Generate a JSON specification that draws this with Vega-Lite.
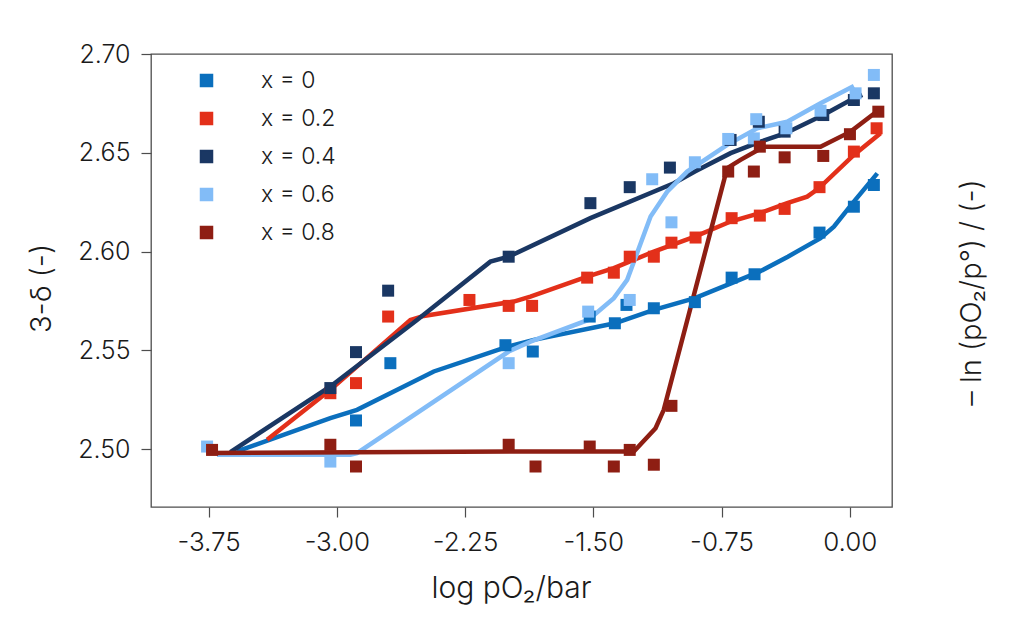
{
  "$schema": "https://vega.github.io/schema/vega-lite/v6.json",
  "width": 741,
  "height": 453,
  "autosize": "none",
  "padding": {"left": 151, "top": 54, "right": 132, "bottom": 135},
  "background": "white",
  "datasets": {
    "pts": [
      {"s": "x = 0", "x": -2.888, "y": 2.5145}, {"s": "x = 0", "x": -2.687, "y": 2.5435},
      {"s": "x = 0", "x": -2.014, "y": 2.5526}, {"s": "x = 0", "x": -1.854, "y": 2.5494},
      {"s": "x = 0", "x": -1.521, "y": 2.5671}, {"s": "x = 0", "x": -1.374, "y": 2.5637},
      {"s": "x = 0", "x": -1.306, "y": 2.573}, {"s": "x = 0", "x": -1.146, "y": 2.5713},
      {"s": "x = 0", "x": -0.906, "y": 2.5744}, {"s": "x = 0", "x": -0.691, "y": 2.5868},
      {"s": "x = 0", "x": -0.557, "y": 2.5885}, {"s": "x = 0", "x": -0.177, "y": 2.6096},
      {"s": "x = 0", "x": 0.024, "y": 2.6227}, {"s": "x = 0", "x": 0.141, "y": 2.6337},

      {"s": "x = 0.2", "x": -3.038, "y": 2.5283}, {"s": "x = 0.2", "x": -2.888, "y": 2.5334},
      {"s": "x = 0.2", "x": -2.7, "y": 2.5671}, {"s": "x = 0.2", "x": -2.2245, "y": 2.5755},
      {"s": "x = 0.2", "x": -1.995, "y": 2.5725}, {"s": "x = 0.2", "x": -1.858, "y": 2.5725},
      {"s": "x = 0.2", "x": -1.536, "y": 2.5868}, {"s": "x = 0.2", "x": -1.38, "y": 2.5893},
      {"s": "x = 0.2", "x": -1.287, "y": 2.5974}, {"s": "x = 0.2", "x": -1.146, "y": 2.5974},
      {"s": "x = 0.2", "x": -1.043, "y": 2.6045}, {"s": "x = 0.2", "x": -0.902, "y": 2.6071},
      {"s": "x = 0.2", "x": -0.691, "y": 2.6169}, {"s": "x = 0.2", "x": -0.526, "y": 2.6182},
      {"s": "x = 0.2", "x": -0.381, "y": 2.6216}, {"s": "x = 0.2", "x": -0.177, "y": 2.6326},
      {"s": "x = 0.2", "x": 0.024, "y": 2.6506}, {"s": "x = 0.2", "x": 0.157, "y": 2.6624},

      {"s": "x = 0.4", "x": -3.038, "y": 2.5309}, {"s": "x = 0.4", "x": -2.888, "y": 2.5491},
      {"s": "x = 0.4", "x": -2.7, "y": 2.5802}, {"s": "x = 0.4", "x": -1.995, "y": 2.5974},
      {"s": "x = 0.4", "x": -1.517, "y": 2.6245}, {"s": "x = 0.4", "x": -1.287, "y": 2.6326},
      {"s": "x = 0.4", "x": -1.052, "y": 2.6425}, {"s": "x = 0.4", "x": -0.697, "y": 2.6565},
      {"s": "x = 0.4", "x": -0.532, "y": 2.6657}, {"s": "x = 0.4", "x": -0.381, "y": 2.6607},
      {"s": "x = 0.4", "x": -0.155, "y": 2.6691}, {"s": "x = 0.4", "x": 0.024, "y": 2.6767},
      {"s": "x = 0.4", "x": 0.141, "y": 2.6801},

      {"s": "x = 0.6", "x": -3.759, "y": 2.5013}, {"s": "x = 0.6", "x": -3.038, "y": 2.4937},
      {"s": "x = 0.6", "x": -1.995, "y": 2.5435}, {"s": "x = 0.6", "x": -1.53, "y": 2.5696},
      {"s": "x = 0.6", "x": -1.287, "y": 2.5755}, {"s": "x = 0.6", "x": -1.1555, "y": 2.6366},
      {"s": "x = 0.6", "x": -1.043, "y": 2.6148}, {"s": "x = 0.6", "x": -0.906, "y": 2.6452},
      {"s": "x = 0.6", "x": -0.711, "y": 2.657}, {"s": "x = 0.6", "x": -0.547, "y": 2.667},
      {"s": "x = 0.6", "x": -0.561, "y": 2.6573}, {"s": "x = 0.6", "x": -0.371, "y": 2.6624},
      {"s": "x = 0.6", "x": -0.171, "y": 2.6713}, {"s": "x = 0.6", "x": 0.034, "y": 2.6801},
      {"s": "x = 0.6", "x": 0.141, "y": 2.6894},

      {"s": "x = 0.8", "x": -3.73, "y": 2.4996}, {"s": "x = 0.8", "x": -3.038, "y": 2.5022},
      {"s": "x = 0.8", "x": -2.888, "y": 2.4912}, {"s": "x = 0.8", "x": -1.995, "y": 2.5022},
      {"s": "x = 0.8", "x": -1.838, "y": 2.4912}, {"s": "x = 0.8", "x": -1.521, "y": 2.5013},
      {"s": "x = 0.8", "x": -1.38, "y": 2.4912}, {"s": "x = 0.8", "x": -1.287, "y": 2.4996},
      {"s": "x = 0.8", "x": -1.146, "y": 2.4921}, {"s": "x = 0.8", "x": -1.043, "y": 2.5219},
      {"s": "x = 0.8", "x": -0.711, "y": 2.6405}, {"s": "x = 0.8", "x": -0.561, "y": 2.6405},
      {"s": "x = 0.8", "x": -0.526, "y": 2.6531}, {"s": "x = 0.8", "x": -0.381, "y": 2.6477},
      {"s": "x = 0.8", "x": -0.155, "y": 2.6484}, {"s": "x = 0.8", "x": 0.001, "y": 2.6594},
      {"s": "x = 0.8", "x": 0.167, "y": 2.6708}
    ],
    "fit": [
      {"s": "x = 0", "x": -3.584, "y": 2.4988}, {"s": "x = 0", "x": -3.038, "y": 2.5157},
      {"s": "x = 0", "x": -2.882, "y": 2.5199}, {"s": "x = 0", "x": -2.433, "y": 2.5393},
      {"s": "x = 0", "x": -2.014, "y": 2.5515}, {"s": "x = 0", "x": -1.848, "y": 2.5553},
      {"s": "x = 0", "x": -1.374, "y": 2.5637}, {"s": "x = 0", "x": -1.146, "y": 2.5705},
      {"s": "x = 0", "x": -0.906, "y": 2.5764}, {"s": "x = 0", "x": -0.691, "y": 2.584},
      {"s": "x = 0", "x": -0.526, "y": 2.5899}, {"s": "x = 0", "x": -0.362, "y": 2.5974},
      {"s": "x = 0", "x": -0.171, "y": 2.6068}, {"s": "x = 0", "x": -0.093, "y": 2.6126},
      {"s": "x = 0", "x": 0.024, "y": 2.6253}, {"s": "x = 0", "x": 0.161, "y": 2.6396},

      {"s": "x = 0.2", "x": -3.408, "y": 2.5047}, {"s": "x = 0.2", "x": -3.038, "y": 2.53},
      {"s": "x = 0.2", "x": -2.57, "y": 2.5654}, {"s": "x = 0.2", "x": -2.492, "y": 2.5674},
      {"s": "x = 0.2", "x": -1.965, "y": 2.5747}, {"s": "x = 0.2", "x": -1.868, "y": 2.5772},
      {"s": "x = 0.2", "x": -1.536, "y": 2.5873}, {"s": "x = 0.2", "x": -1.38, "y": 2.5916},
      {"s": "x = 0.2", "x": -1.146, "y": 2.6}, {"s": "x = 0.2", "x": -0.906, "y": 2.6076},
      {"s": "x = 0.2", "x": -0.697, "y": 2.6152}, {"s": "x = 0.2", "x": -0.526, "y": 2.6194},
      {"s": "x = 0.2", "x": -0.366, "y": 2.6245}, {"s": "x = 0.2", "x": -0.249, "y": 2.6278},
      {"s": "x = 0.2", "x": -0.181, "y": 2.632}, {"s": "x = 0.2", "x": 0.024, "y": 2.6489},
      {"s": "x = 0.2", "x": 0.18, "y": 2.6599},

      {"s": "x = 0.4", "x": -3.623, "y": 2.4985}, {"s": "x = 0.4", "x": -3.038, "y": 2.5317},
      {"s": "x = 0.4", "x": -2.531, "y": 2.5654}, {"s": "x = 0.4", "x": -2.102, "y": 2.5949},
      {"s": "x = 0.4", "x": -1.995, "y": 2.5974}, {"s": "x = 0.4", "x": -1.517, "y": 2.6169},
      {"s": "x = 0.4", "x": -1.029, "y": 2.6346}, {"s": "x = 0.4", "x": -0.906, "y": 2.6405},
      {"s": "x = 0.4", "x": -0.697, "y": 2.6498}, {"s": "x = 0.4", "x": -0.522, "y": 2.6556},
      {"s": "x = 0.4", "x": -0.3755, "y": 2.6599}, {"s": "x = 0.4", "x": -0.155, "y": 2.6691},
      {"s": "x = 0.4", "x": 0.005, "y": 2.6767}, {"s": "x = 0.4", "x": 0.073, "y": 2.6793},

      {"s": "x = 0.6", "x": -3.701, "y": 2.4971}, {"s": "x = 0.6", "x": -2.921, "y": 2.4971},
      {"s": "x = 0.6", "x": -2.882, "y": 2.498}, {"s": "x = 0.6", "x": -1.995, "y": 2.5494},
      {"s": "x = 0.6", "x": -1.868, "y": 2.5544}, {"s": "x = 0.6", "x": -1.53, "y": 2.5654},
      {"s": "x = 0.6", "x": -1.38, "y": 2.5764}, {"s": "x = 0.6", "x": -1.302, "y": 2.5857},
      {"s": "x = 0.6", "x": -1.165, "y": 2.6177}, {"s": "x = 0.6", "x": -1.068, "y": 2.6303},
      {"s": "x = 0.6", "x": -0.951, "y": 2.6405}, {"s": "x = 0.6", "x": -0.717, "y": 2.654},
      {"s": "x = 0.6", "x": -0.541, "y": 2.6624}, {"s": "x = 0.6", "x": -0.366, "y": 2.6657},
      {"s": "x = 0.6", "x": -0.171, "y": 2.6751}, {"s": "x = 0.6", "x": 0.024, "y": 2.6838},

      {"s": "x = 0.8", "x": -3.759, "y": 2.498}, {"s": "x = 0.8", "x": -1.868, "y": 2.4988},
      {"s": "x = 0.8", "x": -1.263, "y": 2.4988}, {"s": "x = 0.8", "x": -1.136, "y": 2.5106},
      {"s": "x = 0.8", "x": -1.088, "y": 2.5199}, {"s": "x = 0.8", "x": -0.717, "y": 2.6422},
      {"s": "x = 0.8", "x": -0.639, "y": 2.6464}, {"s": "x = 0.8", "x": -0.5025, "y": 2.6531},
      {"s": "x = 0.8", "x": -0.171, "y": 2.6531}, {"s": "x = 0.8", "x": 0.005, "y": 2.6607},
      {"s": "x = 0.8", "x": 0.17, "y": 2.6717}
    ]
  },
  "layer": [
    {
      "data": {"name": "fit"},
      "mark": {"type": "line", "strokeWidth": 4.5},
      "encoding": {
        "x": {
          "field": "x",
          "type": "quantitative",
          "scale": {"domain": [-4.087, 0.247], "nice": false, "zero": false},
          "axis": {
            "values": [-3.75, -3, -2.25, -1.5, -0.75, 0],
            "labelExpr": "replace(format(datum.value, '.2f'), '\u2212', '-')",
            "labelFontSize": 26,
            "title": "log pO\u2082/bar",
            "titleFontSize": 30,
            "titleX": 360,
            "titleY": 90,
            "titleBaseline": "alphabetic",
            "labelPadding": 12
          }
        },
        "y": {
          "field": "y",
          "type": "quantitative",
          "scale": {"domain": [2.4707, 2.7], "nice": false, "zero": false},
          "axis": {
            "orient": "right",
            "labels": false,
            "ticks": false,
            "title": "\u2013 ln (pO\u2082/p\u00b0) / (-)",
            "titleAngle": 270,
            "titleX": 79,
            "titleY": 238,
            "titleAlign": "center",
            "titleBaseline": "middle"
          }
        },
        "color": {
          "field": "s",
          "type": "nominal",
          "scale": {
            "domain": ["x = 0", "x = 0.2", "x = 0.4", "x = 0.6", "x = 0.8"],
            "range": ["#0b6fbd", "#e3301a", "#1a3763", "#82bcf7", "#8e1e13"]
          }
        }
      }
    },
    {
      "data": {"name": "pts"},
      "mark": {"type": "square", "size": 144, "opacity": 1},
      "encoding": {
        "x": {
          "field": "x",
          "type": "quantitative",
          "scale": {"domain": [-4.087, 0.247], "nice": false, "zero": false}
        },
        "y": {
          "field": "y",
          "type": "quantitative",
          "scale": {"domain": [2.4707, 2.7], "nice": false, "zero": false},
          "axis": {
            "values": [2.5, 2.55, 2.6, 2.65, 2.7],
            "format": ".2f",
            "labelFontSize": 25,
            "title": "3-\u03b4 (-)",
            "titleX": -110,
            "titleY": 234,
            "titleAngle": 270,
            "titleAlign": "center",
            "titleBaseline": "middle",
            "labelPadding": 11
          }
        },
        "color": {
          "field": "s",
          "type": "nominal",
          "legend": {
            "orient": "none",
            "legendX": 44,
            "legendY": 15,
            "title": null,
            "symbolType": "square",
            "symbolSize": 144,
            "labelFontSize": 23,
            "labelFontWeight": 300,
            "labelColor": "#1a1a1a",
            "labelOffset": 43,
            "rowPadding": 14,
            "encode": {
              "symbols": {
                "update": {
                  "fill": {"scale": "color", "field": "value"},
                  "fillOpacity": {"value": 1},
                  "strokeWidth": {"value": 0}
                }
              }
            }
          }
        }
      }
    }
  ],
  "resolve": {"scale": {"y": "independent"}},
  "config": {
    "font": "Inter",
    "view": {"stroke": "#4d4d4d", "strokeWidth": 1.3},
    "axis": {
      "grid": false,
      "domain": false,
      "labelFont": "Inter",
      "labelFontWeight": 300,
      "labelColor": "#1a1a1a",
      "titleFont": "Inter",
      "titleFontSize": 29,
      "titleFontWeight": 300,
      "titleColor": "#1a1a1a",
      "tickColor": "#4d4d4d",
      "tickSize": 10,
      "tickWidth": 1.2
    }
  }
}
